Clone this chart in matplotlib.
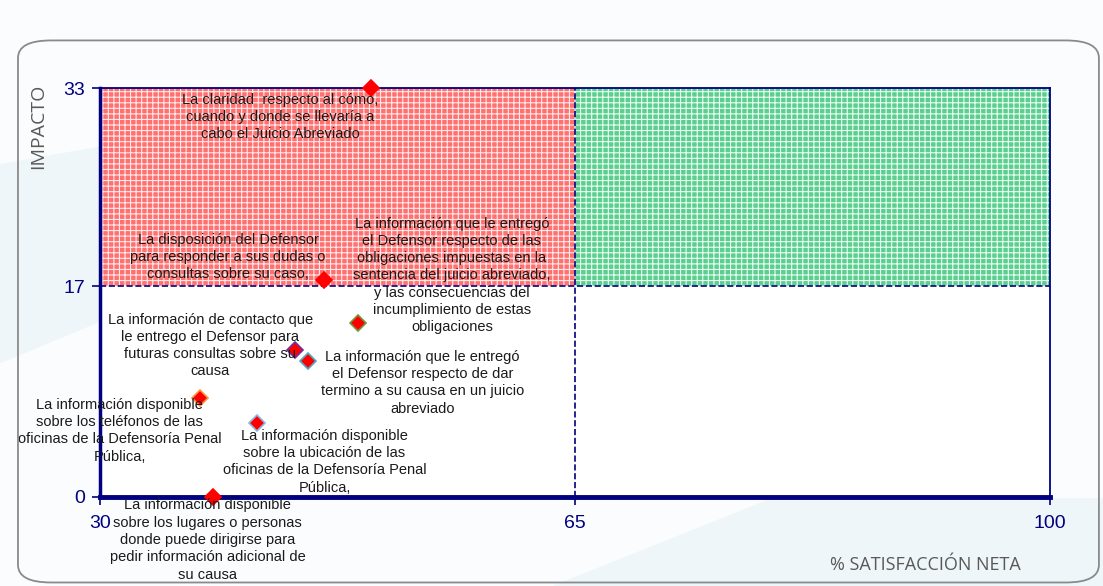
import matplotlib
matplotlib.use("Agg")
import matplotlib.pyplot as plt
from matplotlib.patches import Rectangle, FancyBboxPatch, Polygon

plt.rcParams['font.family'] = ['Liberation Sans', 'DejaVu Sans']
plt.rcParams['hatch.linewidth'] = 0.8

# --- datos ---
etiquetas = [
    "La claridad  respecto al cómo,\ncuando y donde se llevaría a\ncabo el Juicio Abreviado",
    "La disposición del Defensor\npara responder a sus dudas o\nconsultas sobre su caso,",
    "La información que le entregó\nel Defensor respecto de las\nobligaciones impuestas en la\nsentencia del juicio abreviado,\ny las consecuencias del\nincumplimiento de estas\nobligaciones",
    "La información de contacto que\nle entrego el Defensor para\nfuturas consultas sobre su\ncausa",
    "La información que le entregó\nel Defensor respecto de dar\ntermino a su causa en un juicio\nabreviado",
    "La información disponible\nsobre los teléfonos de las\noficinas de la Defensoría Penal\nPública,",
    "La información disponible\nsobre la ubicación de las\noficinas de la Defensoría Penal\nPública,",
    "La información disponible\nsobre los lugares o personas\ndonde puede dirigirse para\npedir información adicional de\nsu causa",
]
satisfaccion = [50.0, 46.5, 49.0, 44.4, 45.3, 37.4, 41.6, 38.3]
impacto = [33.0, 17.5, 14.0, 11.9, 11.0, 8.0, 6.0, 0.0]
x_ticks = [30, 65, 100]
y_ticks = [0, 17, 33]
corte_x = 65
corte_y = 17

# estilo de cada punto: color del borde y desplazamiento de la etiqueta (px)
bordes = ['red', 'red', '#77933c', '#7030a0', '#4bacc6', '#f79646', '#8eb4e3', 'red']
offsets = [(-91, -29), (-96, 23), (94, 48), (-85, 4), (115, -22), (-81, -33), (67, -39), (-5, -43)]

navy = '#000080'

fig = plt.figure(figsize=(11.03, 5.86), dpi=100)
fig.patch.set_facecolor('#fbfcfd')

# fondo: marco redondeado y franjas azules suaves
fig.add_artist(Polygon([(0, 0.72), (0.09, 0.75), (0.09, 0.45), (0, 0.38)],
                       closed=True, transform=fig.transFigure,
                       facecolor='#d5ebf3', edgecolor='none', alpha=0.3, zorder=0))
fig.add_artist(Polygon([(0.50, 0), (1, 0), (1, 0.15), (0.70, 0.15)],
                       closed=True, transform=fig.transFigure,
                       facecolor='#d5ebf3', edgecolor='none', alpha=0.3, zorder=0))
fig.add_artist(FancyBboxPatch((0.0163, 0.006), 0.98, 0.925,
                              boxstyle="round,pad=0,rounding_size=0.03",
                              transform=fig.transFigure, facecolor='none',
                              edgecolor='#8a8a8a', linewidth=1.3, zorder=1))

ax = fig.add_axes([0.0907, 0.1519, 0.8613, 0.6979])
ax.set_xlim(x_ticks[0], x_ticks[-1])
ax.set_ylim(y_ticks[0], y_ticks[-1])

# cuadrantes
ax.add_patch(Rectangle((x_ticks[0], corte_y), corte_x - x_ticks[0], y_ticks[-1] - corte_y,
                       facecolor='#ff7070', edgecolor='#ffeaea', hatch='+++',
                       linewidth=0, zorder=1))
ax.add_patch(Rectangle((corte_x, corte_y), x_ticks[-1] - corte_x, y_ticks[-1] - corte_y,
                       facecolor='#5cce90', edgecolor='#eafff2', hatch='+++',
                       linewidth=0, zorder=1))

ax.axvline(corte_x, color=navy, linestyle='--', linewidth=1.2, zorder=2)
ax.axhline(corte_y, color=navy, linestyle='--', linewidth=1.2, zorder=2)

for x, y, c in zip(satisfaccion, impacto, bordes):
    ax.plot(x, y, marker='D', markersize=8, markerfacecolor='red',
            markeredgecolor=c, markeredgewidth=1.2, linestyle='none',
            zorder=5, clip_on=False)

for x, y, txt, off in zip(satisfaccion, impacto, etiquetas, offsets):
    ax.annotate(txt, (x, y), xytext=off, textcoords='offset pixels',
                ha='center', va='center', fontsize=10.5, color='#1a1a1a',
                linespacing=1.3, zorder=6, annotation_clip=False)

for side in ['top', 'right']:
    ax.spines[side].set_color(navy)
    ax.spines[side].set_linewidth(1.3)
ax.spines['left'].set_color(navy)
ax.spines['left'].set_linewidth(2.5)
ax.spines['bottom'].set_color(navy)
ax.spines['bottom'].set_linewidth(3.5)

ax.set_xticks(x_ticks)
ax.set_yticks(y_ticks)
ax.tick_params(colors=navy, labelsize=14, length=6, width=1.2)
ax.tick_params(axis='x', pad=7)
ax.tick_params(axis='y', pad=5)

fig.text(0.035, 0.785, 'IMPACTO', rotation=90, ha='center', va='center',
         fontsize=14, color='#595959', family=['Open Sans', 'DejaVu Sans'])
fig.text(0.925, 0.035, '% SATISFACCIÓN NETA', ha='right', va='center',
         fontsize=13, color='#595959', family=['Open Sans', 'DejaVu Sans'])

fig.savefig('out.png', dpi=100, facecolor=fig.get_facecolor())
